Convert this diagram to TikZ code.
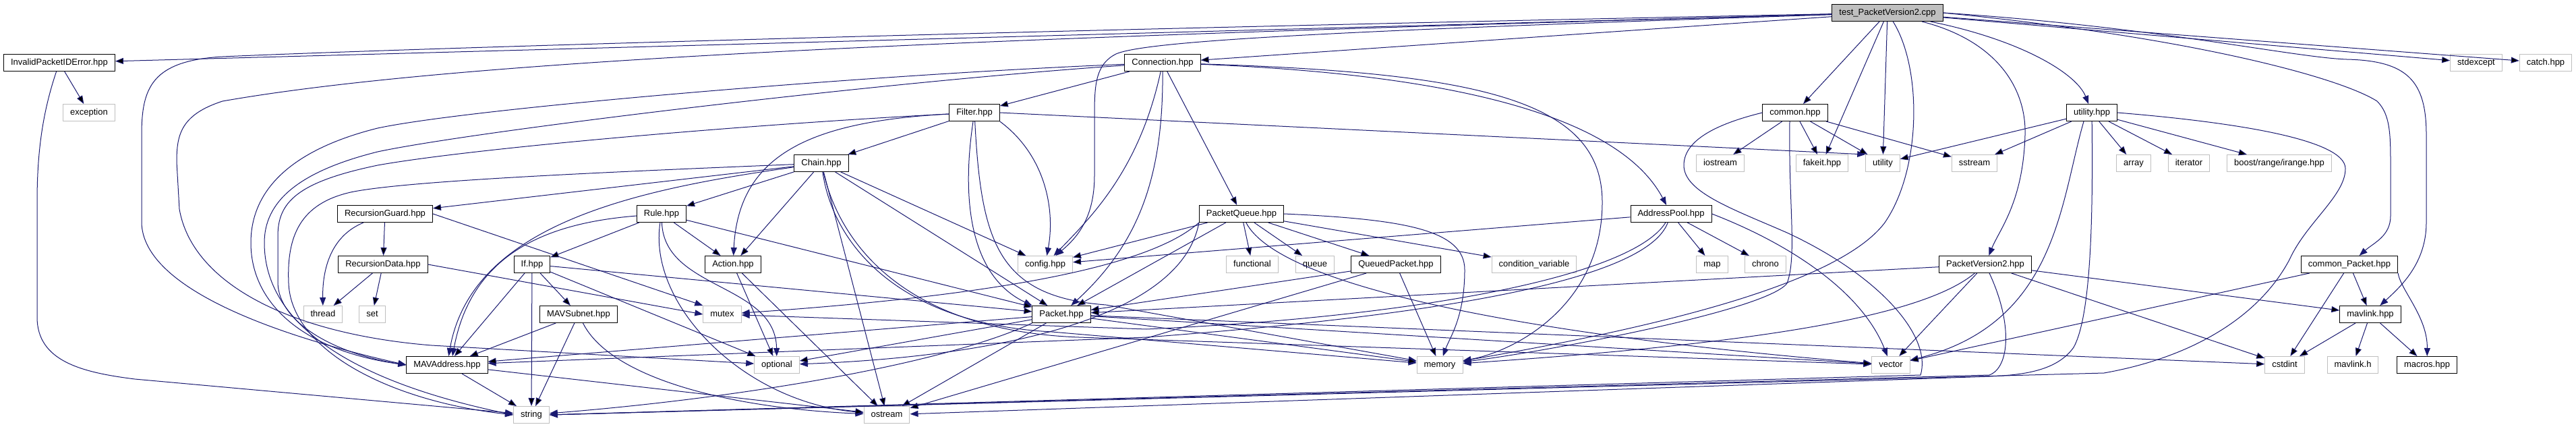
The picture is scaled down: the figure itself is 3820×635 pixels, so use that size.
\documentclass[tikz,border=0pt]{standalone}
\usepackage{fontspec}
\setmainfont{Liberation Sans}
\usetikzlibrary{arrows.meta}
\definecolor{edgeblue}{HTML}{191970}
\definecolor{extgray}{HTML}{BFBFBF}
\definecolor{rootgray}{HTML}{BFBFBF}
\tikzset{
    file/.style={draw=black, fill=white, line width=1pt, minimum height=25pt,
        inner xsep=10.5pt, inner ysep=0pt, text height=9.4pt, text depth=2.6pt,
        font=\fontsize{13}{15}\selectfont},
    extfile/.style={file, draw=extgray},
    rootfile/.style={file, fill=rootgray},
    dep/.style={draw=edgeblue, line width=1pt, -{Triangle[length=12pt,width=9pt]}}
}
\begin{document}
\begin{tikzpicture}[x=1pt, y=-1pt]
    \useasboundingbox (0,0) rectangle (3820,635);
    % files, row by row
    \node [rootfile] (testPV2) at (2799,19) {test\_PacketVersion2.cpp};
    \node [file] (invErr) at (88,93) {InvalidPacketIDError.hpp};
    \node [file] (conn) at (1724,93) {Connection.hpp};
    \node [extfile] (stdexc) at (3672,93) {stdexcept};
    \node [extfile] (catchH) at (3775,93) {catch.hpp};
    \node [extfile] (excpt) at (132,167) {exception};
    \node [file] (filter) at (1445,167) {Filter.hpp};
    \node [file] (commonH) at (2662,167) {common.hpp};
    \node [file] (utilH) at (3102,167) {utility.hpp};
    \node [file] (chain) at (1218,242) {Chain.hpp};
    \node [extfile] (iostr) at (2551,242) {iostream};
    \node [extfile] (fakeit) at (2702,242) {fakeit.hpp};
    \node [extfile] (utilStd) at (2792,242) {utility};
    \node [extfile] (sstr) at (2928,242) {sstream};
    \node [extfile] (arrayS) at (3164,242) {array};
    \node [extfile] (iter) at (3246,242) {iterator};
    \node [extfile] (boostR) at (3380,242) {boost/range/irange.hpp};
    \node [file] (recGuard) at (571,317) {RecursionGuard.hpp};
    \node [file] (rule) at (981,317) {Rule.hpp};
    \node [file] (pktQueue) at (1841,317) {PacketQueue.hpp};
    \node [file] (addrPool) at (2478,317) {AddressPool.hpp};
    \node [file] (recData) at (568,392) {RecursionData.hpp};
    \node [file] (ifH) at (789,392) {If.hpp};
    \node [file] (action) at (1087,392) {Action.hpp};
    \node [extfile] (config) at (1550,392) {config.hpp};
    \node [extfile] (functional) at (1857,392) {functional};
    \node [extfile] (queueS) at (1950,392) {queue};
    \node [file] (queuedPkt) at (2070,392) {QueuedPacket.hpp};
    \node [extfile] (condVar) at (2275,392) {condition\_variable};
    \node [extfile] (mapS) at (2539,392) {map};
    \node [extfile] (chrono) at (2618,392) {chrono};
    \node [file] (pktV2) at (2944,392) {PacketVersion2.hpp};
    \node [file] (commonPkt) at (3484,392) {common\_Packet.hpp};
    \node [extfile] (thread) at (479,466) {thread};
    \node [extfile] (setS) at (552,466) {set};
    \node [file] (mavSubnet) at (858,466) {MAVSubnet.hpp};
    \node [extfile] (mutexS) at (1071,466) {mutex};
    \node [file] (packet) at (1574,466) {Packet.hpp};
    \node [file] (mavlinkHpp) at (3515,466) {mavlink.hpp};
    \node [file] (mavAddr) at (663,541) {MAVAddress.hpp};
    \node [extfile] (optional) at (1152,541) {optional};
    \node [extfile] (memory) at (2135,541) {memory};
    \node [extfile] (vector) at (2804,541) {vector};
    \node [extfile] (cstdint) at (3388,541) {cstdint};
    \node [extfile] (mavlinkH) at (3489,541) {mavlink.h};
    \node [file] (macros) at (3599,541) {macros.hpp};
    \node [extfile] (stringS) at (788,615) {string};
    \node [extfile] (ostream) at (1315,615) {ostream};

    % includes of the test file
    \path [dep] (testPV2) edge (invErr) edge (conn) edge (commonH) edge (fakeit)
        edge (utilStd) edge (stdexc) edge (catchH);
    \draw [dep] (testPV2) .. controls (3000,60) and (3080,110) .. (utilH);
    \draw [dep] (testPV2) .. controls (1500,45) and (600,72) .. (330,84)
        .. controls (225,90) and (210,130) .. (210,200) -- (210,330)
        .. controls (212,430) and (420,500) .. (mavAddr.west);
    \draw [dep] (testPV2) .. controls (1500,55) and (700,85) .. (330,150)
        .. controls (268,170) and (262,200) .. (262,240) -- (266,310)
        .. controls (285,420) and (430,495) .. (640,512) -- (optional);
    \draw [dep] (testPV2) .. controls (2000,45) and (1700,60) .. (1655,80)
        .. controls (1625,95) and (1623,125) .. (1623,170) -- (1623,260)
        .. controls (1623,320) and (1600,350) .. (config);
    \draw [dep] (testPV2) .. controls (2850,100) and (2850,250) .. (2795,330)
        .. controls (2720,430) and (2400,495) .. (memory);
    \draw [dep] (testPV2) .. controls (2960,60) and (3005,130) .. (3003,200)
        .. controls (3000,300) and (2965,340) .. (pktV2);
    \draw [dep] (testPV2.east) .. controls (3250,55) and (3470,115) .. (3525,150)
        .. controls (3545,170) and (3545,200) .. (3545,250) -- (3545,320)
        .. controls (3545,350) and (3520,360) .. (commonPkt);
    \draw [dep] (testPV2.east) .. controls (3200,40) and (3400,85) .. (3480,88)
        .. controls (3570,90) and (3598,120) .. (3598,200) -- (3598,330)
        .. controls (3598,390) and (3560,425) .. (mavlinkHpp);

    \path [dep] (invErr) edge (excpt);
    \draw [dep] (invErr) .. controls (62,170) and (55,230) .. (55,300) -- (55,470)
        .. controls (55,535) and (120,552) .. (200,562) -- (stringS);

    % Connection.hpp
    \path [dep] (conn) edge (filter) edge (pktQueue);
    \draw [dep] (conn) .. controls (2150,110) and (2400,170) .. (addrPool);
    \draw [dep] (conn) .. controls (2200,108) and (2376,150) .. (2376,300)
        .. controls (2376,450) and (2250,520) .. (memory);
    \draw [dep] (conn) .. controls (1690,250) and (1620,320) .. (config);
    \draw [dep] (conn) .. controls (1725,260) and (1690,360) .. (packet);
    \draw [dep] (conn) .. controls (1300,110) and (700,160) .. (560,190)
        .. controls (420,225) and (372,290) .. (372,360)
        .. controls (372,450) and (450,520) .. (mavAddr.west);
    \draw [dep] (conn) .. controls (1300,122) and (700,195) .. (560,225)
        .. controls (440,255) and (392,300) .. (392,360)
        .. controls (392,480) and (520,565) .. (stringS.west);

    % Filter.hpp
    \path [dep] (filter) edge (chain);
    \draw [dep] (filter.east) -- (utilStd.north west);
    \draw [dep] (filter) .. controls (1200,180) and (1095,230) .. (action);
    \draw [dep] (filter) .. controls (1425,300) and (1440,410) .. (packet.north west);
    \draw [dep] (filter) .. controls (1455,360) and (1480,440) .. (1640,452) -- (memory);
    \draw [dep] (filter.south east) .. controls (1550,230) and (1565,310) .. (config);
    \draw [dep] (filter) .. controls (1100,185) and (700,220) .. (560,245)
        .. controls (440,270) and (412,300) .. (412,350) -- (412,420)
        .. controls (414,480) and (500,525) .. (mavAddr.west);

    % Chain.hpp
    \path [dep] (chain) edge (recGuard) edge (rule) edge (action) edge (config)
        edge (packet) edge (ostream);
    \draw [dep] (chain) .. controls (950,280) and (700,330) .. (mavAddr);
    \draw [dep] (chain) .. controls (1235,360) and (1330,480) .. (1560,492) -- (memory);
    \draw [dep] (chain) .. controls (1245,360) and (1340,490) .. (1600,500) -- (vector);
    \draw [dep] (chain) .. controls (900,255) and (600,268) .. (520,285)
        .. controls (445,302) and (425,350) .. (428,420)
        .. controls (432,520) and (580,595) .. (stringS.west);

    % recursion guards
    \path [dep] (recGuard) edge (recData);
    \draw [dep] (recGuard) .. controls (490,350) and (478,400) .. (thread);
    \draw [dep] (recGuard.east) -- (mutexS.north west);
    \path [dep] (recData) edge (thread) edge (setS);
    \draw [dep] (recData.east) -- (mutexS.west);

    % Rule.hpp, If.hpp, MAVSubnet.hpp, Action.hpp, MAVAddress.hpp
    \path [dep] (rule) edge (ifH) edge (action) edge (packet);
    \draw [dep] (rule) .. controls (820,330) and (700,370) .. ([xshift=8pt]mavAddr.north);
    \draw [dep] (rule) .. controls (985,430) and (1150,420) .. (optional);
    \draw [dep] (rule) .. controls (960,450) and (1100,595) .. (ostream);
    \path [dep] (ifH) edge (mavAddr) edge (mavSubnet) edge (stringS) edge (optional)
        edge (packet);
    \path [dep] (mavSubnet) edge (mavAddr) edge (stringS);
    \draw [dep] (mavSubnet) .. controls (905,560) and (1080,605) .. (ostream);
    \path [dep] (action) edge (optional) edge (ostream);
    \path [dep] (mavAddr) edge (stringS) edge (ostream);

    % PacketQueue.hpp, QueuedPacket.hpp
    \path [dep] (pktQueue) edge (config) edge (functional) edge (queueS)
        edge (queuedPkt) edge (condVar) edge (packet);
    \draw [dep] (pktQueue.east) .. controls (2080,325) and (2172,340) .. (2172,400)
        .. controls (2172,470) and (2150,500) .. (memory);
    \draw [dep] (pktQueue.south west) .. controls (1700,400) and (1450,440) .. (mutexS);
    \draw [dep] (pktQueue.south west) .. controls (1750,480) and (1450,530) .. (optional);
    \draw [dep] (pktQueue) .. controls (1900,430) and (2300,500) .. (vector);
    \path [dep] (queuedPkt) edge (packet) edge (memory) edge (ostream);

    % AddressPool.hpp
    \path [dep] (addrPool) edge (config) edge (mapS) edge (chrono);
    \draw [dep] (addrPool.east) .. controls (2650,360) and (2760,430) .. (vector);
    \draw [dep] (addrPool) .. controls (2420,410) and (2100,470) .. (1700,488) -- (mutexS);
    \draw [dep] (addrPool) .. controls (2440,420) and (2100,470) .. (1700,500) -- (mavAddr);

    % Packet.hpp
    \path [dep] (packet) edge (mavAddr) edge (optional) edge (ostream) edge (memory)
        edge (vector) edge (cstdint);
    \draw [dep] (packet.south west) .. controls (1400,540) and (1100,590) .. (stringS);

    % PacketVersion2.hpp
    \path [dep] (pktV2) edge (packet) edge (vector) edge (cstdint) edge (mavlinkHpp);
    \draw [dep] (pktV2) .. controls (2850,470) and (2600,510) .. (memory);
    \draw [dep] (pktV2) .. controls (2985,480) and (2980,545) .. (2950,556) -- (stringS.east);

    % common.hpp
    \path [dep] (commonH) edge (iostr) edge (fakeit) edge (utilStd) edge (sstr);
    \draw [dep] ([xshift=-8pt]commonH.south) .. controls (2652,300) and (2665,380) .. (2650,420)
        .. controls (2620,460) and (2300,520) .. (memory);
    \draw [dep] (commonH.west) .. controls (2540,185) and (2497,210) .. (2497,245)
        .. controls (2497,285) and (2570,310) .. (2650,345)
        .. controls (2790,410) and (2865,500) .. (2848,556) -- (stringS.east);

    % utility.hpp
    \path [dep] (utilH) edge (utilStd) edge (sstr) edge (arrayS) edge (iter) edge (boostR);
    \draw [dep] ([xshift=-12pt]utilH.south) .. controls (3055,300) and (3050,480) .. (vector);
    \draw [dep] (utilH) .. controls (3104,330) and (3100,470) .. (3075,515)
        .. controls (3050,550) and (3000,556) .. (2950,558) -- (ostream);
    \draw [dep] (utilH.east) .. controls (3300,180) and (3478,205) .. (3478,250)
        .. controls (3478,290) and (3420,330) .. (3395,385)
        .. controls (3350,470) and (3250,530) .. (3120,553) -- (stringS.east);

    % common_Packet.hpp, mavlink.hpp
    \path [dep] (commonPkt) edge (cstdint) edge (mavlinkHpp) edge (vector);
    \draw [dep] (commonPkt.south east) .. controls (3560,430) and (3600,470) .. (macros);
    \path [dep] (mavlinkHpp) edge (cstdint) edge (mavlinkH) edge (macros);
\end{tikzpicture}
\end{document}
